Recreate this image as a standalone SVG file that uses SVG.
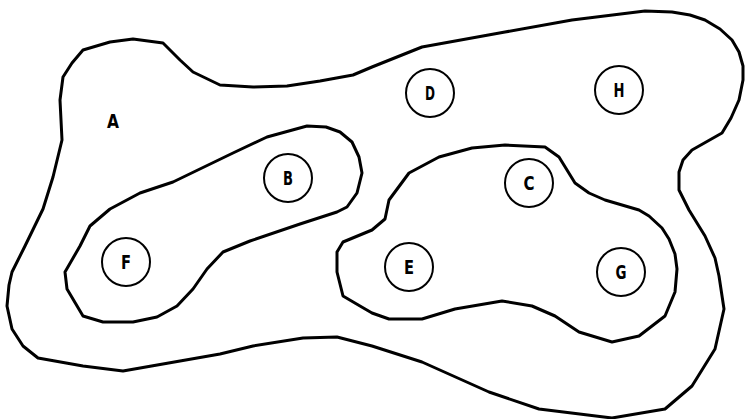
<svg xmlns="http://www.w3.org/2000/svg" width="745" height="419" viewBox="0 0 745 419">
<style>
.blob{fill:none;stroke:#000;stroke-width:3;stroke-linejoin:round}
.node circle{fill:#fff;stroke:#000;stroke-width:2}
.lbl{font-family:"DejaVu Sans","Liberation Sans",sans-serif;font-weight:bold;font-size:20px;text-anchor:middle;fill:#000}
</style>
<rect width="745" height="419" fill="#fff"/>
<g id="connectors">
<polygon id="setA" class="blob" points="672,12 690,15 705,20 720,29 732,40 739,52 743,66 743,80 739,100 731,118 722,133 692,150 683,160 679,172 679,190 689,210 705,236 715,258 719,276 724,309 715,349 692,386 665,409 612,418 539,409 489,392 422,362 372,346 337,337 303,338 253,346 220,354 123,371 83,366 38,358 23,346 12,329 7,306 9,285 12,272 25,246 43,209 53,177 62,140 60,100 63,77 72,63 83,50 110,42 133,39 163,43 180,60 193,72 220,85 253,87 287,86 320,81 353,75 372,67 422,47 505,32 572,20 645,11"/>
<polygon id="setBF" class="blob" points="307,126 326,127 340,132 352,142 359,157 362,173 357,193 347,207 337,212 300,224 250,241 223,252 207,269 193,289 177,306 157,317 133,322 103,322 83,316 67,289 65,272 80,246 90,226 110,209 140,193 173,182 233,153 267,137"/>
<polygon id="setCEG" class="blob" points="505,145 545,147 559,157 575,183 589,193 605,200 639,210 649,216 662,228 669,239 675,254 677,269 675,292 665,316 639,336 612,342 579,332 555,316 532,306 502,301 455,309 422,319 389,319 372,313 360,306 343,296 337,272 337,252 343,242 372,230 385,219 389,200 409,173 439,157 472,148"/>
</g>
<text class="lbl" x="113" y="128" textLength="12" lengthAdjust="spacingAndGlyphs">A</text>
<g id="B" class="node"><circle cx="288" cy="178" r="24"/><text class="lbl" x="288" y="185" textLength="10" lengthAdjust="spacingAndGlyphs">B</text></g>
<g id="C" class="node"><circle cx="529" cy="183" r="24"/><text class="lbl" x="529" y="190" textLength="11" lengthAdjust="spacingAndGlyphs">C</text></g>
<g id="D" class="node"><circle cx="430" cy="93" r="24"/><text class="lbl" x="430" y="100" textLength="10" lengthAdjust="spacingAndGlyphs">D</text></g>
<g id="E" class="node"><circle cx="409" cy="267" r="24"/><text class="lbl" x="409" y="274" textLength="10" lengthAdjust="spacingAndGlyphs">E</text></g>
<g id="F" class="node"><circle cx="126" cy="262" r="24"/><text class="lbl" x="126" y="269" textLength="10" lengthAdjust="spacingAndGlyphs">F</text></g>
<g id="G" class="node"><circle cx="621" cy="272" r="24"/><text class="lbl" x="621" y="279" textLength="11" lengthAdjust="spacingAndGlyphs">G</text></g>
<g id="H" class="node"><circle cx="619" cy="90" r="24"/><text class="lbl" x="619" y="97" textLength="11" lengthAdjust="spacingAndGlyphs">H</text></g>
</svg>
